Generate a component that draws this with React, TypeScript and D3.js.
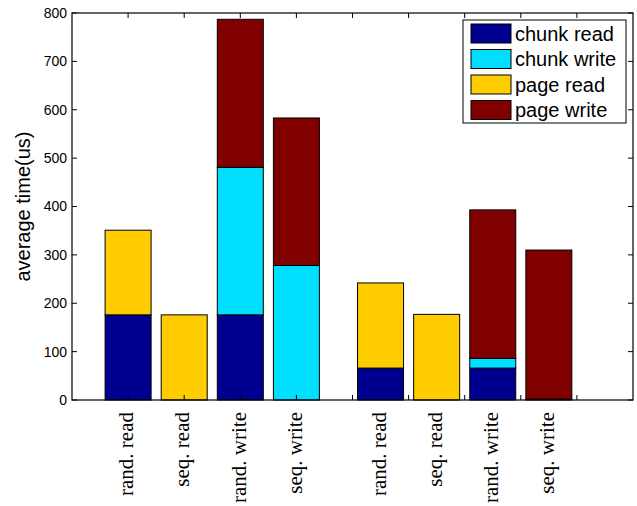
import React from "react";
import * as d3 from "d3";

const categories = ["rand. read", "seq. read", "rand. write", "seq. write", "rand. read", "seq. read", "rand. write", "seq. write"];
const positions = [1, 2, 3, 4, 5.5, 6.5, 7.5, 8.5];
const seriesNames = ["chunk read", "chunk write", "page read", "page write"];
const chunkRead = [176, 0, 176, 0, 66, 0, 66, 2];
const chunkWrite = [0, 0, 305, 278, 0, 0, 20, 0];
const pageRead = [175, 176, 0, 0, 176, 177, 0, 0];
const pageWrite = [0, 0, 306, 305, 0, 0, 307, 308];
const yTicks = [0, 100, 200, 300, 400, 500, 600, 700, 800];
const xTicks = [1, 2, 3, 4, 5, 6, 7, 8, 9];
const colors = ["#000090", "#00DFFF", "#FFCC00", "#800000"];

export default function App() {
  const W = 637, H = 506;
  const L = 72, R = 633, T = 13, B = 400;
  const x = d3.scaleLinear().domain([0, 10]).range([L, R]);
  const y = d3.scaleLinear().domain([0, 800]).range([B, T]);
  const bw = (x(1) - x(0)) * 0.82;

  const rows = categories.map((c, i) => ({
    cat: c,
    pos: positions[i],
    "chunk read": chunkRead[i],
    "chunk write": chunkWrite[i],
    "page read": pageRead[i],
    "page write": pageWrite[i],
  }));
  const stack = d3.stack<any>().keys(seriesNames)(rows);
  const tl = 5;

  return (
    <svg width={W} height={H} style={{ position: "absolute", left: 0, top: 0 }} fontFamily="Liberation Sans, Arial, sans-serif">
      <rect x={0} y={0} width={W} height={H} fill="#fff" />
      {stack.map((layer, si) =>
        layer.map((d, i) =>
          d[1] - d[0] > 0 ? (
            <rect
              key={si + "-" + i}
              x={x(positions[i]) - bw / 2}
              y={y(d[1])}
              width={bw}
              height={y(d[0]) - y(d[1])}
              fill={colors[si]}
              stroke="#000"
              strokeWidth={1}
            />
          ) : null
        )
      )}
      {/* ticks */}
      {yTicks.map((t) => (
        <g key={"yt" + t}>
          <line x1={L} x2={L + tl} y1={y(t)} y2={y(t)} stroke="#000" />
          <line x1={R} x2={R - tl} y1={y(t)} y2={y(t)} stroke="#000" />
          <text x={L - 5} y={y(t)} dy="0.35em" textAnchor="end" fontSize={14}>{t}</text>
        </g>
      ))}
      {xTicks.map((t) => (
        <g key={"xt" + t}>
          <line x1={x(t)} x2={x(t)} y1={B} y2={B - tl} stroke="#000" />
          <line x1={x(t)} x2={x(t)} y1={T} y2={T + tl} stroke="#000" />
        </g>
      ))}
      <rect x={L} y={T} width={R - L} height={B - T} fill="none" stroke="#000" strokeWidth={1.2} />
      {categories.map((c, i) => (
        <text
          key={"xl" + i}
          transform={`translate(${x(positions[i])},412) rotate(-90)`}
          textAnchor="end"
          dy="0.25em"
          fontSize={21}
          fontFamily="Liberation Serif, Times New Roman, serif"
        >
          {c}
        </text>
      ))}
      <text transform={`translate(30,${(T + B) / 2}) rotate(-90)`} textAnchor="middle" fontSize={20}>
        average time(us)
      </text>
      {/* legend */}
      <rect x={463} y={20} width={163} height={103} fill="#fff" stroke="#000" strokeWidth={1} />
      {seriesNames.map((s, i) => (
        <g key={"lg" + i}>
          <rect x={471} y={24 + i * 25.5} width={40} height={19} fill={colors[i]} stroke="#000" strokeWidth={1} />
          <text x={515} y={33.5 + i * 25.5} dy="0.35em" fontSize={20}>{s}</text>
        </g>
      ))}
    </svg>
  );
}
